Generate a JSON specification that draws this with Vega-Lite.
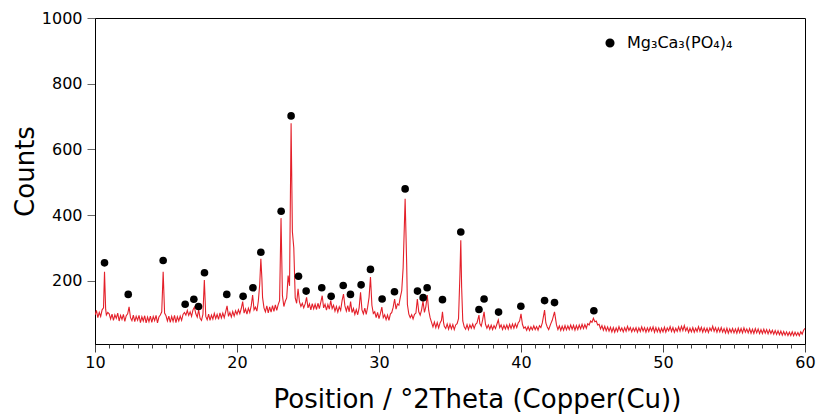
{
  "$schema": "https://vega.github.io/schema/vega-lite/v6.json",
  "width": 710,
  "height": 326,
  "autosize": "none",
  "padding": {"left": 95, "top": 18, "right": 12, "bottom": 74},
  "background": "white",
  "config": {
    "font": "DejaVu Sans",
    "view": {"stroke": "black", "strokeWidth": 1},
    "axis": {"labelFont": "DejaVu Sans", "titleFont": "DejaVu Sans", "labelColor": "black", "titleColor": "black", "domainColor": "black", "grid": false, "titleFontWeight": "normal"}
  },
  "resolve": {"axis": {"x": "independent"}},
  "datasets": {
    "line": [
      {"x":10.0,"y":96},{"x":10.1,"y":110},{"x":10.2,"y":88},{"x":10.3,"y":104},{"x":10.4,"y":92},{"x":10.5,"y":112},{"x":10.6,"y":118},{"x":10.67,"y":228},{"x":10.75,"y":114},{"x":10.8,"y":96},{"x":10.9,"y":104},
      {"x":11.0,"y":100},{"x":11.1,"y":84},{"x":11.2,"y":99},{"x":11.3,"y":80},{"x":11.4,"y":97},{"x":11.5,"y":86},{"x":11.6,"y":102},{"x":11.7,"y":78},{"x":11.8,"y":95},{"x":11.9,"y":83},
      {"x":12.0,"y":98},{"x":12.1,"y":77},{"x":12.2,"y":94},{"x":12.3,"y":100},{"x":12.4,"y":121},{"x":12.5,"y":88},{"x":12.6,"y":79},{"x":12.7,"y":96},{"x":12.8,"y":76},{"x":12.9,"y":92},
      {"x":13.0,"y":80},{"x":13.1,"y":95},{"x":13.2,"y":73},{"x":13.3,"y":91},{"x":13.4,"y":78},{"x":13.5,"y":94},{"x":13.6,"y":72},{"x":13.7,"y":90},{"x":13.8,"y":76},{"x":13.9,"y":93},
      {"x":14.0,"y":74},{"x":14.1,"y":92},{"x":14.2,"y":79},{"x":14.3,"y":95},{"x":14.4,"y":72},{"x":14.5,"y":90},{"x":14.6,"y":96},{"x":14.7,"y":106},{"x":14.8,"y":228},{"x":14.9,"y":102},
      {"x":15.0,"y":94},{"x":15.1,"y":78},{"x":15.2,"y":93},{"x":15.3,"y":74},{"x":15.4,"y":92},{"x":15.5,"y":77},{"x":15.6,"y":95},{"x":15.7,"y":73},{"x":15.8,"y":91},{"x":15.9,"y":78},
      {"x":16.0,"y":93},{"x":16.1,"y":80},{"x":16.2,"y":98},{"x":16.3,"y":104},{"x":16.4,"y":96},{"x":16.5,"y":110},{"x":16.6,"y":95},{"x":16.7,"y":106},{"x":16.8,"y":92},{"x":16.9,"y":112},
      {"x":17.0,"y":120},{"x":17.1,"y":100},{"x":17.2,"y":90},{"x":17.3,"y":112},{"x":17.4,"y":86},{"x":17.5,"y":80},{"x":17.6,"y":98},{"x":17.7,"y":203},{"x":17.8,"y":92},{"x":17.9,"y":82},
      {"x":18.0,"y":99},{"x":18.1,"y":80},{"x":18.2,"y":96},{"x":18.3,"y":84},{"x":18.4,"y":101},{"x":18.5,"y":85},{"x":18.6,"y":98},{"x":18.7,"y":83},{"x":18.8,"y":103},{"x":18.9,"y":87},
      {"x":19.0,"y":102},{"x":19.1,"y":88},{"x":19.2,"y":106},{"x":19.3,"y":124},{"x":19.4,"y":92},{"x":19.5,"y":104},{"x":19.6,"y":90},{"x":19.7,"y":107},{"x":19.8,"y":93},{"x":19.9,"y":109},
      {"x":20.0,"y":98},{"x":20.1,"y":112},{"x":20.2,"y":100},{"x":20.3,"y":116},{"x":20.4,"y":137},{"x":20.5,"y":102},{"x":20.6,"y":115},{"x":20.7,"y":99},{"x":20.8,"y":117},{"x":20.9,"y":104},
      {"x":21.0,"y":124},{"x":21.1,"y":157},{"x":21.2,"y":112},{"x":21.3,"y":120},{"x":21.4,"y":108},{"x":21.5,"y":138},{"x":21.6,"y":190},{"x":21.68,"y":267},{"x":21.75,"y":210},{"x":21.8,"y":150},{"x":21.9,"y":118},
      {"x":22.0,"y":106},{"x":22.1,"y":124},{"x":22.2,"y":103},{"x":22.3,"y":121},{"x":22.4,"y":105},{"x":22.5,"y":125},{"x":22.6,"y":107},{"x":22.7,"y":127},{"x":22.8,"y":110},{"x":22.9,"y":128},
      {"x":23.0,"y":140},{"x":23.1,"y":391},{"x":23.2,"y":155},{"x":23.3,"y":122},{"x":23.4,"y":138},{"x":23.5,"y":148},{"x":23.6,"y":216},{"x":23.7,"y":185},{"x":23.81,"y":680},{"x":23.9,"y":350},
      {"x":24.0,"y":300},{"x":24.1,"y":148},{"x":24.2,"y":132},{"x":24.3,"y":176},{"x":24.4,"y":136},{"x":24.5,"y":122},{"x":24.6,"y":132},{"x":24.7,"y":118},{"x":24.8,"y":130},{"x":24.9,"y":150},
      {"x":25.0,"y":118},{"x":25.1,"y":130},{"x":25.2,"y":112},{"x":25.3,"y":131},{"x":25.4,"y":115},{"x":25.5,"y":129},{"x":25.6,"y":113},{"x":25.7,"y":132},{"x":25.8,"y":116},{"x":25.9,"y":135},
      {"x":26.0,"y":155},{"x":26.1,"y":118},{"x":26.2,"y":129},{"x":26.3,"y":111},{"x":26.4,"y":128},{"x":26.5,"y":114},{"x":26.6,"y":140},{"x":26.7,"y":116},{"x":26.8,"y":126},{"x":26.9,"y":108},
      {"x":27.0,"y":122},{"x":27.1,"y":105},{"x":27.2,"y":121},{"x":27.3,"y":110},{"x":27.4,"y":140},{"x":27.5,"y":160},{"x":27.6,"y":124},{"x":27.7,"y":108},{"x":27.8,"y":125},{"x":27.9,"y":106},
      {"x":28.0,"y":137},{"x":28.1,"y":104},{"x":28.2,"y":116},{"x":28.3,"y":98},{"x":28.4,"y":113},{"x":28.5,"y":97},{"x":28.6,"y":118},{"x":28.7,"y":165},{"x":28.8,"y":112},{"x":28.9,"y":100},
      {"x":29.0,"y":117},{"x":29.1,"y":98},{"x":29.2,"y":120},{"x":29.3,"y":150},{"x":29.4,"y":212},{"x":29.5,"y":126},{"x":29.6,"y":101},{"x":29.7,"y":106},{"x":29.8,"y":88},{"x":29.9,"y":104},
      {"x":30.0,"y":85},{"x":30.1,"y":101},{"x":30.2,"y":120},{"x":30.3,"y":88},{"x":30.4,"y":97},{"x":30.5,"y":82},{"x":30.6,"y":96},{"x":30.7,"y":80},{"x":30.8,"y":99},{"x":30.9,"y":104},
      {"x":31.0,"y":120},{"x":31.1,"y":145},{"x":31.2,"y":114},{"x":31.3,"y":130},{"x":31.4,"y":126},{"x":31.5,"y":150},{"x":31.6,"y":170},{"x":31.7,"y":240},{"x":31.84,"y":450},{"x":31.95,"y":250},
      {"x":32.0,"y":128},{"x":32.1,"y":99},{"x":32.2,"y":88},{"x":32.3,"y":97},{"x":32.4,"y":84},{"x":32.5,"y":98},{"x":32.6,"y":102},{"x":32.7,"y":145},{"x":32.8,"y":106},{"x":32.9,"y":96},
      {"x":33.0,"y":112},{"x":33.1,"y":139},{"x":33.2,"y":104},{"x":33.3,"y":122},{"x":33.4,"y":157},{"x":33.5,"y":110},{"x":33.6,"y":88},{"x":33.7,"y":74},{"x":33.8,"y":60},{"x":33.9,"y":75},
      {"x":34.0,"y":58},{"x":34.1,"y":73},{"x":34.2,"y":57},{"x":34.3,"y":72},{"x":34.4,"y":80},{"x":34.47,"y":106},{"x":34.55,"y":72},{"x":34.6,"y":62},{"x":34.7,"y":55},{"x":34.8,"y":69},{"x":34.9,"y":53},
      {"x":35.0,"y":68},{"x":35.1,"y":54},{"x":35.2,"y":67},{"x":35.3,"y":52},{"x":35.4,"y":66},{"x":35.5,"y":70},{"x":35.6,"y":85},{"x":35.7,"y":220},{"x":35.76,"y":324},{"x":35.82,"y":180},{"x":35.9,"y":78},
      {"x":36.0,"y":60},{"x":36.1,"y":53},{"x":36.2,"y":67},{"x":36.3,"y":52},{"x":36.4,"y":66},{"x":36.5,"y":56},{"x":36.6,"y":69},{"x":36.7,"y":55},{"x":36.8,"y":68},{"x":36.9,"y":72},
      {"x":37.04,"y":96},{"x":37.1,"y":70},{"x":37.2,"y":62},{"x":37.3,"y":82},{"x":37.4,"y":106},{"x":37.5,"y":68},{"x":37.6,"y":56},{"x":37.7,"y":66},{"x":37.8,"y":53},{"x":37.9,"y":65},
      {"x":38.0,"y":52},{"x":38.1,"y":64},{"x":38.2,"y":55},{"x":38.3,"y":68},{"x":38.4,"y":81},{"x":38.5,"y":58},{"x":38.6,"y":66},{"x":38.7,"y":52},{"x":38.8,"y":65},{"x":38.9,"y":54},
      {"x":39.0,"y":66},{"x":39.1,"y":53},{"x":39.2,"y":68},{"x":39.3,"y":55},{"x":39.4,"y":69},{"x":39.5,"y":56},{"x":39.6,"y":70},{"x":39.7,"y":58},{"x":39.8,"y":72},{"x":39.9,"y":78},
      {"x":40.0,"y":100},{"x":40.1,"y":68},{"x":40.2,"y":56},{"x":40.3,"y":60},{"x":40.4,"y":50},{"x":40.5,"y":61},{"x":40.6,"y":49},{"x":40.7,"y":60},{"x":40.8,"y":51},{"x":40.9,"y":63},
      {"x":41.0,"y":52},{"x":41.1,"y":61},{"x":41.2,"y":50},{"x":41.3,"y":64},{"x":41.4,"y":58},{"x":41.5,"y":72},{"x":41.66,"y":111},{"x":41.75,"y":72},{"x":41.85,"y":60},{"x":41.95,"y":52},
      {"x":42.1,"y":70},{"x":42.2,"y":80},{"x":42.36,"y":106},{"x":42.5,"y":66},{"x":42.6,"y":52},{"x":42.7,"y":63},{"x":42.8,"y":49},{"x":42.9,"y":62},
      {"x":43.0,"y":50},{"x":43.1,"y":64},{"x":43.2,"y":51},{"x":43.3,"y":63},{"x":43.4,"y":52},{"x":43.5,"y":66},{"x":43.6,"y":53},{"x":43.7,"y":65},{"x":43.8,"y":50},{"x":43.9,"y":64},
      {"x":44.0,"y":52},{"x":44.1,"y":66},{"x":44.2,"y":54},{"x":44.3,"y":68},{"x":44.4,"y":55},{"x":44.5,"y":67},{"x":44.6,"y":56},{"x":44.7,"y":70},{"x":44.8,"y":66},{"x":44.9,"y":78},
      {"x":45.0,"y":74},{"x":45.1,"y":86},{"x":45.2,"y":76},{"x":45.3,"y":78},{"x":45.4,"y":66},{"x":45.5,"y":68},{"x":45.6,"y":54},{"x":45.7,"y":64},{"x":45.8,"y":50},{"x":45.9,"y":62},
      {"x":46.0,"y":48},{"x":46.1,"y":60},{"x":46.2,"y":47},{"x":46.3,"y":59},{"x":46.4,"y":45},{"x":46.5,"y":58},{"x":46.6,"y":44},{"x":46.7,"y":57},{"x":46.8,"y":46},{"x":46.9,"y":61},
      {"x":47.0,"y":48},{"x":47.1,"y":57},{"x":47.2,"y":45},{"x":47.3,"y":58},{"x":47.4,"y":47},{"x":47.5,"y":62},{"x":47.6,"y":49},{"x":47.7,"y":58},{"x":47.8,"y":45},{"x":47.9,"y":57},
      {"x":48.0,"y":47},{"x":48.1,"y":58},{"x":48.2,"y":44},{"x":48.3,"y":57},{"x":48.4,"y":46},{"x":48.5,"y":60},{"x":48.6,"y":47},{"x":48.7,"y":58},{"x":48.8,"y":44},{"x":48.9,"y":57},
      {"x":49.0,"y":46},{"x":49.1,"y":59},{"x":49.2,"y":48},{"x":49.3,"y":60},{"x":49.4,"y":44},{"x":49.5,"y":58},{"x":49.6,"y":45},{"x":49.7,"y":57},{"x":49.8,"y":43},{"x":49.9,"y":56},
      {"x":50.0,"y":45},{"x":50.1,"y":59},{"x":50.2,"y":44},{"x":50.3,"y":57},{"x":50.4,"y":48},{"x":50.5,"y":61},{"x":50.6,"y":46},{"x":50.7,"y":58},{"x":50.8,"y":44},{"x":50.9,"y":56},
      {"x":51.0,"y":46},{"x":51.1,"y":60},{"x":51.2,"y":47},{"x":51.3,"y":62},{"x":51.4,"y":49},{"x":51.5,"y":64},{"x":51.6,"y":48},{"x":51.7,"y":58},{"x":51.8,"y":43},{"x":51.9,"y":56},
      {"x":52.0,"y":45},{"x":52.1,"y":58},{"x":52.2,"y":44},{"x":52.3,"y":56},{"x":52.4,"y":46},{"x":52.5,"y":61},{"x":52.6,"y":47},{"x":52.7,"y":59},{"x":52.8,"y":44},{"x":52.9,"y":57},
      {"x":53.0,"y":45},{"x":53.1,"y":56},{"x":53.2,"y":43},{"x":53.3,"y":57},{"x":53.4,"y":48},{"x":53.5,"y":62},{"x":53.6,"y":47},{"x":53.7,"y":58},{"x":53.8,"y":44},{"x":53.9,"y":57},
      {"x":54.0,"y":45},{"x":54.1,"y":58},{"x":54.2,"y":44},{"x":54.3,"y":55},{"x":54.4,"y":42},{"x":54.5,"y":56},{"x":54.6,"y":41},{"x":54.7,"y":54},{"x":54.8,"y":43},{"x":54.9,"y":55},
      {"x":55.0,"y":42},{"x":55.1,"y":54},{"x":55.2,"y":41},{"x":55.3,"y":56},{"x":55.4,"y":43},{"x":55.5,"y":55},{"x":55.6,"y":42},{"x":55.7,"y":57},{"x":55.8,"y":44},{"x":55.9,"y":54},
      {"x":56.0,"y":42},{"x":56.1,"y":55},{"x":56.2,"y":41},{"x":56.3,"y":53},{"x":56.4,"y":40},{"x":56.5,"y":55},{"x":56.6,"y":42},{"x":56.7,"y":54},{"x":56.8,"y":40},{"x":56.9,"y":52},
      {"x":57.0,"y":40},{"x":57.1,"y":53},{"x":57.2,"y":41},{"x":57.3,"y":52},{"x":57.4,"y":39},{"x":57.5,"y":51},{"x":57.6,"y":40},{"x":57.7,"y":50},{"x":57.8,"y":38},{"x":57.9,"y":49},
      {"x":58.0,"y":37},{"x":58.1,"y":48},{"x":58.2,"y":36},{"x":58.3,"y":47},{"x":58.4,"y":35},{"x":58.5,"y":46},{"x":58.6,"y":35},{"x":58.7,"y":45},{"x":58.8,"y":34},{"x":58.9,"y":44},
      {"x":59.0,"y":34},{"x":59.1,"y":45},{"x":59.2,"y":33},{"x":59.3,"y":44},{"x":59.4,"y":34},{"x":59.5,"y":43},{"x":59.6,"y":33},{"x":59.7,"y":45},{"x":59.8,"y":38},{"x":59.9,"y":50},
      {"x":60.0,"y":56}
    ],
    "peaks": [
      {"x":10.67,"y":255,"phase":"Mg₃Ca₃(PO₄)₄"},{"x":12.34,"y":159,"phase":"Mg₃Ca₃(PO₄)₄"},{"x":14.8,"y":262,"phase":"Mg₃Ca₃(PO₄)₄"},
      {"x":16.35,"y":129,"phase":"Mg₃Ca₃(PO₄)₄"},{"x":16.96,"y":144,"phase":"Mg₃Ca₃(PO₄)₄"},{"x":17.29,"y":122,"phase":"Mg₃Ca₃(PO₄)₄"},
      {"x":17.71,"y":225,"phase":"Mg₃Ca₃(PO₄)₄"},{"x":19.28,"y":159,"phase":"Mg₃Ca₃(PO₄)₄"},{"x":20.43,"y":153,"phase":"Mg₃Ca₃(PO₄)₄"},
      {"x":21.12,"y":179,"phase":"Mg₃Ca₃(PO₄)₄"},{"x":21.68,"y":287,"phase":"Mg₃Ca₃(PO₄)₄"},{"x":23.11,"y":412,"phase":"Mg₃Ca₃(PO₄)₄"},
      {"x":23.81,"y":702,"phase":"Mg₃Ca₃(PO₄)₄"},{"x":24.33,"y":214,"phase":"Mg₃Ca₃(PO₄)₄"},{"x":24.87,"y":169,"phase":"Mg₃Ca₃(PO₄)₄"},
      {"x":25.97,"y":179,"phase":"Mg₃Ca₃(PO₄)₄"},{"x":26.63,"y":153,"phase":"Mg₃Ca₃(PO₄)₄"},{"x":27.48,"y":186,"phase":"Mg₃Ca₃(PO₄)₄"},
      {"x":27.99,"y":159,"phase":"Mg₃Ca₃(PO₄)₄"},{"x":28.74,"y":188,"phase":"Mg₃Ca₃(PO₄)₄"},{"x":29.4,"y":235,"phase":"Mg₃Ca₃(PO₄)₄"},
      {"x":30.22,"y":145,"phase":"Mg₃Ca₃(PO₄)₄"},{"x":31.09,"y":167,"phase":"Mg₃Ca₃(PO₄)₄"},{"x":31.84,"y":480,"phase":"Mg₃Ca₃(PO₄)₄"},
      {"x":32.71,"y":169,"phase":"Mg₃Ca₃(PO₄)₄"},{"x":33.11,"y":149,"phase":"Mg₃Ca₃(PO₄)₄"},{"x":33.39,"y":179,"phase":"Mg₃Ca₃(PO₄)₄"},
      {"x":34.47,"y":143,"phase":"Mg₃Ca₃(PO₄)₄"},{"x":35.76,"y":349,"phase":"Mg₃Ca₃(PO₄)₄"},{"x":37.04,"y":113,"phase":"Mg₃Ca₃(PO₄)₄"},
      {"x":37.4,"y":145,"phase":"Mg₃Ca₃(PO₄)₄"},{"x":38.42,"y":105,"phase":"Mg₃Ca₃(PO₄)₄"},{"x":39.99,"y":123,"phase":"Mg₃Ca₃(PO₄)₄"},
      {"x":41.66,"y":140,"phase":"Mg₃Ca₃(PO₄)₄"},{"x":42.36,"y":134,"phase":"Mg₃Ca₃(PO₄)₄"},{"x":45.13,"y":109,"phase":"Mg₃Ca₃(PO₄)₄"}
    ]
  },
  "layer": [
    {
      "data": {"name": "line"},
      "mark": {"type": "line", "color": "#e4202a", "strokeWidth": 1.1, "clip": true},
      "encoding": {
        "x": {
          "field": "x", "type": "quantitative",
          "scale": {"domain": [10, 60], "nice": false, "zero": false},
          "axis": {
            "orient": "bottom",
            "title": "Position / °2Theta (Copper(Cu))",
            "titleFontSize": 26, "titlePadding": 16, "titleX": 382,
            "values": [10, 20, 30, 40, 50, 60],
            "labelFontSize": 16, "labelPadding": 2, "labelFlush": false, "labelOverlap": false,
            "tickColor": "#444", "tickSize": 8
          }
        },
        "y": {
          "field": "y", "type": "quantitative",
          "scale": {"domain": [8, 1000], "nice": false, "zero": false},
          "axis": {
            "title": "Counts", "titleFontSize": 26, "titlePadding": 3, "titleY": 153,
            "values": [200, 400, 600, 800, 1000], "format": "d",
            "labelFontSize": 16, "labelPadding": 5,
            "tickColor": "#666", "tickSize": 8
          }
        }
      }
    },
    {
      "data": {"name": "peaks"},
      "mark": {"type": "point", "filled": true, "shape": "circle", "size": 58, "opacity": 1},
      "encoding": {
        "x": {
          "field": "x", "type": "quantitative",
          "axis": {
            "orient": "bottom", "title": null, "labels": false, "domain": false,
            "values": [11,12,13,14,15,16,17,18,19,21,22,23,24,25,26,27,28,29,31,32,33,34,35,36,37,38,39,41,42,43,44,45,46,47,48,49,51,52,53,54,55,56,57,58,59],
            "tickColor": "#444", "tickSize": 4
          }
        },
        "y": {"field": "y", "type": "quantitative"},
        "color": {
          "field": "phase", "type": "nominal",
          "scale": {"range": ["black"]},
          "legend": {
            "title": null, "orient": "none", "legendX": 507, "legendY": 17,
            "labelFontSize": 16, "labelFont": "DejaVu Sans", "labelColor": "black",
            "symbolSize": 58, "symbolType": "circle", "symbolFillColor": "black", "symbolStrokeColor": "black",
            "labelOffset": 9, "padding": 0
          }
        }
      }
    }
  ]
}
